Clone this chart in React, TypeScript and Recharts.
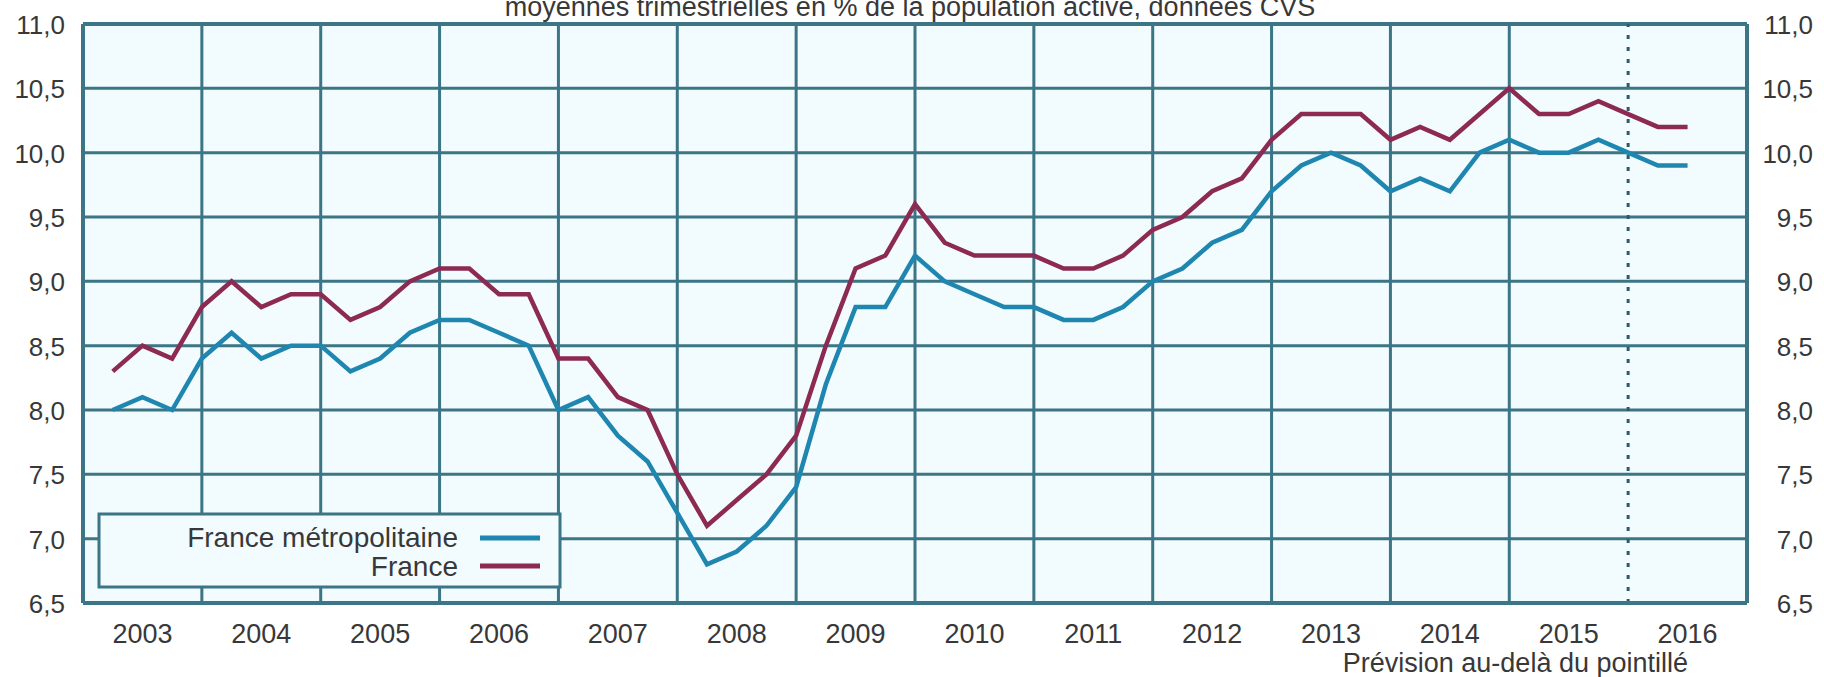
import React from 'react';
import { LineChart, Line, XAxis, YAxis, CartesianGrid, ReferenceLine } from 'recharts';

// ---- data ----
const years = [2003, 2004, 2005, 2006, 2007, 2008, 2009, 2010, 2011, 2012, 2013, 2014, 2015, 2016];
const yTicks = [6.5, 7, 7.5, 8, 8.5, 9, 9.5, 10, 10.5, 11];
const forecastStart = 2016;
const titleText = 'moyennes trimestrielles en % de la population active, données CVS';
const noteText = 'Prévision au-delà du pointillé';

// quarterly values, 2003T1 ... 2016T2 (plotted at the end of each quarter)
const metro = [
  8.0, 8.1, 8.0, 8.4,
  8.6, 8.4, 8.5, 8.5,
  8.3, 8.4, 8.6, 8.7,
  8.7, 8.6, 8.5, 8.0,
  8.1, 7.8, 7.6, 7.2,
  6.8, 6.9, 7.1, 7.4,
  8.2, 8.8, 8.8, 9.2,
  9.0, 8.9, 8.8, 8.8,
  8.7, 8.7, 8.8, 9.0,
  9.1, 9.3, 9.4, 9.7,
  9.9, 10.0, 9.9, 9.7,
  9.8, 9.7, 10.0, 10.1,
  10.0, 10.0, 10.1, 10.0,
  9.9, 9.9,
];
const france = [
  8.3, 8.5, 8.4, 8.8,
  9.0, 8.8, 8.9, 8.9,
  8.7, 8.8, 9.0, 9.1,
  9.1, 8.9, 8.9, 8.4,
  8.4, 8.1, 8.0, 7.5,
  7.1, 7.3, 7.5, 7.8,
  8.5, 9.1, 9.2, 9.6,
  9.3, 9.2, 9.2, 9.2,
  9.1, 9.1, 9.2, 9.4,
  9.5, 9.7, 9.8, 10.1,
  10.3, 10.3, 10.3, 10.1,
  10.2, 10.1, 10.3, 10.5,
  10.3, 10.3, 10.4, 10.3,
  10.2, 10.2,
];

// ---- styles ----
const FONT = '"Liberation Sans", Arial, Helvetica, sans-serif';
const BLUE = '#1f86b0';
const RED = '#8c2a52';
const GRID = '#3b7586';
const PLOT_BG = '#f2fbfe';
const TEXT = '#383838';
const W = 1824;
const H = 677;

const series = [
  { key: 'metro', name: 'France métropolitaine', color: BLUE, axis: 'left' },
  { key: 'france', name: 'France', color: RED, axis: 'right' },
];

const fmt = (v: number) => v.toFixed(1).replace('.', ',');

const YTick = (props: any) => {
  const { x, y, payload } = props;
  return (
    <text x={x} y={y} dy={10} textAnchor="end" fontSize={26} fill={TEXT} fontFamily={FONT}>
      {fmt(payload.value)}
    </text>
  );
};

const XTick = (props: any) => {
  const { x, y, payload } = props;
  return (
    <text x={x} y={y} textAnchor="middle" fontSize={27} fill={TEXT} fontFamily={FONT}>
      {Math.floor(payload.value)}
    </text>
  );
};

export default function App() {
  const data = metro.map((m, i) => ({ t: years[0] + (i + 1) / 4, metro: m, france: france[i] }));
  const yearCenters = years.map((y) => y + 0.5);
  const yearStarts = years.slice(1).filter((y) => y < forecastStart);

  return (
    <div style={{ position: 'absolute', left: 0, top: 0, width: W, height: H, background: '#ffffff', fontFamily: FONT }}>
      <LineChart width={W} height={H} data={data} margin={{ top: 24, right: 0, bottom: 0, left: 0 }} style={{ fontFamily: FONT }}>
        <CartesianGrid yAxisId="left" vertical={false} stroke={GRID} strokeWidth={3} fill={PLOT_BG} fillOpacity={1} />
        <XAxis
          dataKey="t"
          type="number"
          domain={[years[0], years[years.length - 1] + 1]}
          ticks={yearCenters}
          interval={0}
          height={74}
          tickSize={0}
          tickMargin={40}
          tickLine={false}
          tick={<XTick />}
          axisLine={{ stroke: GRID, strokeWidth: 4 }}
        />
        <YAxis
          yAxisId="left"
          type="number"
          domain={[6.5, 11]}
          ticks={yTicks}
          interval={0}
          width={83}
          tickSize={0}
          tickMargin={18}
          tickLine={false}
          tick={<YTick />}
          axisLine={{ stroke: GRID, strokeWidth: 4 }}
        />
        <YAxis
          yAxisId="right"
          type="number"
          orientation="right"
          domain={[6.5, 11]}
          ticks={yTicks}
          interval={0}
          width={77}
          tickSize={0}
          tickMargin={66}
          tickLine={false}
          tick={<YTick />}
          axisLine={{ stroke: GRID, strokeWidth: 4 }}
        />
        {yearStarts.map((y) => (
          <ReferenceLine key={y} yAxisId="left" x={y} stroke={GRID} strokeWidth={3} />
        ))}
        <ReferenceLine yAxisId="left" y={11} stroke={GRID} strokeWidth={4} />
        <ReferenceLine yAxisId="left" x={forecastStart} stroke="#2f5b68" strokeWidth={3} strokeDasharray="4 8" />
        {series.map((s) => (
          <Line
            key={s.key}
            yAxisId={s.axis}
            type="linear"
            dataKey={s.key}
            name={s.name}
            stroke={s.color}
            strokeWidth={4.5}
            dot={false}
            activeDot={false}
            isAnimationActive={false}
          />
        ))}
      </LineChart>
      <svg
        width={W}
        height={H}
        style={{ position: 'absolute', left: 0, top: 0, pointerEvents: 'none' }}
        fontFamily={FONT}
      >
        <text x={910} y={16} textAnchor="middle" fontSize={27} fill={TEXT}>
          {titleText}
        </text>
        <text x={1688} y={672} textAnchor="end" fontSize={27} fill={TEXT}>
          {noteText}
        </text>
        <rect x={99} y={514} width={461} height={73} fill={PLOT_BG} stroke={GRID} strokeWidth={3} />
        {series.map((s, i) => (
          <g key={s.key}>
            <text x={458} y={547 + i * 29} textAnchor="end" fontSize={28} fill={TEXT}>
              {s.name}
            </text>
            <line x1={480} x2={540} y1={538 + i * 28} y2={538 + i * 28} stroke={s.color} strokeWidth={5} />
          </g>
        ))}
      </svg>
    </div>
  );
}
